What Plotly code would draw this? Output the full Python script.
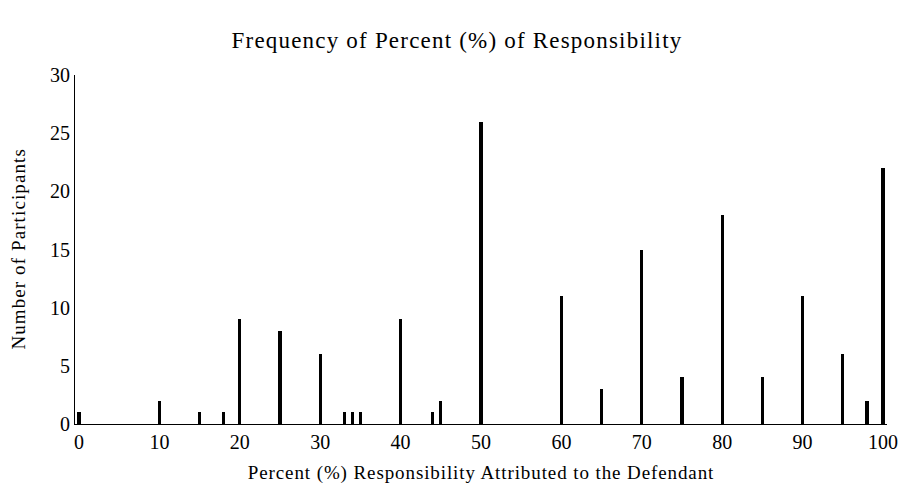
import plotly.graph_objects as go

percent = [0, 10, 15, 18, 20, 25, 30, 33, 34, 35, 40, 44, 45, 50, 60, 65, 70, 75, 80, 85, 90, 95, 98, 100]
counts = [1, 2, 1, 1, 9, 8, 6, 1, 1, 1, 9, 1, 2, 26, 11, 3, 15, 4, 18, 4, 11, 6, 2, 22]
x_ticks = [0, 10, 20, 30, 40, 50, 60, 70, 80, 90, 100]
y_ticks = [0, 5, 10, 15, 20, 25, 30]

fig = go.Figure(go.Bar(x=percent, y=counts, width=0.4,
                       marker=dict(color="black", line=dict(width=0))))

font = "Liberation Serif, Times New Roman, serif"
fig.update_layout(
    width=898, height=484,
    paper_bgcolor="white", plot_bgcolor="white",
    margin=dict(l=67, r=19, t=67, b=68, autoexpand=False),
    title=dict(text="Frequency of Percent (%) of Responsibility", x=0.5, xanchor="center",
               y=1 - 32 / 484, yanchor="middle", font=dict(family=font, size=23, color="black")),
    font=dict(family=font, color="black"),
    showlegend=False,
    bargap=0,
    annotations=[dict(text="Number of Participants", textangle=-90,
                      xref="paper", yref="paper", x=0, y=0.5, xanchor="center", yanchor="middle",
                      xshift=-57, yshift=0, showarrow=False,
                      font=dict(family=font, size=19, color="black"))],
)
fig.update_xaxes(range=[-0.5, 100.5], tickvals=x_ticks, ticks="", showgrid=False, zeroline=False,
                 showline=True, linecolor="black", linewidth=1, automargin=False,
                 tickfont=dict(family=font, size=20, color="black"),
                 title=dict(text="Percent (%) Responsibility Attributed to the Defendant",
                            font=dict(family=font, size=19, color="black"), standoff=13))
fig.update_yaxes(range=[0, 30], tickvals=y_ticks, ticks="", showgrid=False, zeroline=False,
                 showline=True, linecolor="black", linewidth=1, automargin=False,
                 tickfont=dict(family=font, size=20, color="black"))

post = """
var gd = document.getElementById('{plot_id}');
function ls(sel, v){ gd.querySelectorAll(sel).forEach(function(e){ e.style.letterSpacing = v; }); }
ls('.gtitle', '1.2px'); ls('.xtitle', '0.9px'); ls('.annotation-text', '1.1px');
"""
fig.write_html("out.html", post_script=post)
